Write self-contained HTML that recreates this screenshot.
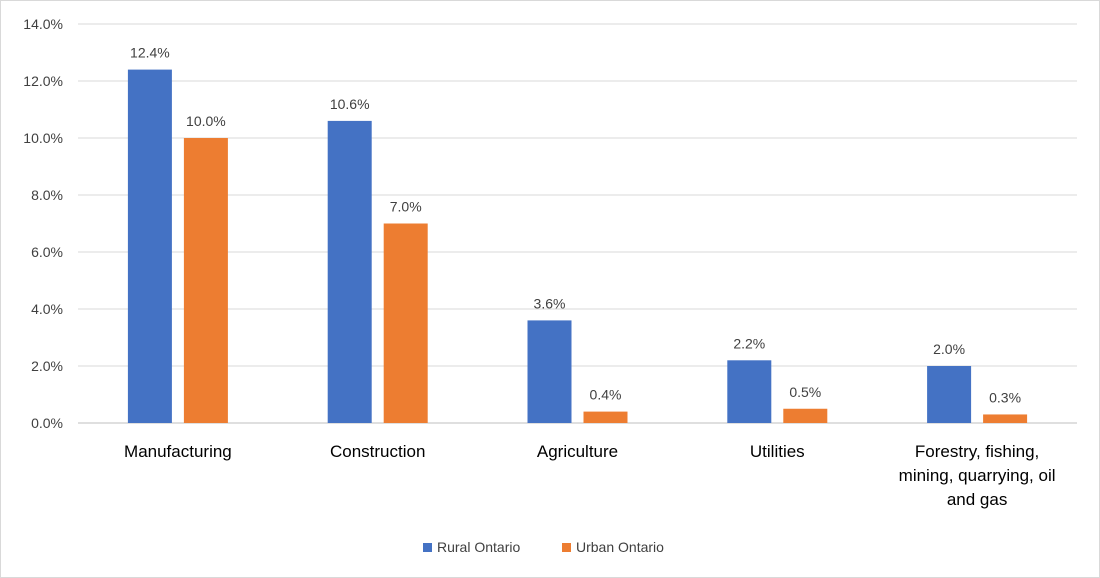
<!DOCTYPE html>
<html><head><meta charset="utf-8"><style>
html,body{margin:0;padding:0;background:#fff}
svg{display:block;font-family:"Liberation Sans",Calibri,sans-serif}
</style></head><body>
<svg id="chart" width="1100" height="578">
<rect x="0.5" y="0.5" width="1099" height="577" fill="#fff" stroke="#d9d9d9"/>
<g id="grid"></g><g id="bars"></g><g id="labels"></g>
<g>
<rect x="423" y="543" width="9" height="9" fill="#4472c4"/>
<text x="437" y="552" font-size="14" fill="#404040">Rural Ontario</text>
<rect x="562" y="543" width="9" height="9" fill="#ed7d31"/>
<text x="576" y="552" font-size="14" fill="#404040">Urban Ontario</text>
</g>
</svg>
<script>
const categories=[["Manufacturing"],["Construction"],["Agriculture"],["Utilities"],["Forestry, fishing,","mining, quarrying, oil","and gas"]];
const rural=[12.4,10.6,3.6,2.2,2.0];
const urban=[10.0,7.0,0.4,0.5,0.3];
const ticks=[0,2,4,6,8,10,12,14];
const ns="http://www.w3.org/2000/svg";
const L=78,R=1077,T=24,B=423,maxV=14;
const y=v=>B-(v/maxV)*(B-T);
const bw=(R-L)/categories.length;
const cx=i=>L+bw*(i+0.5);
function mk(tag,attrs,parent,txt){const e=document.createElementNS(ns,tag);for(const k in attrs)e.setAttribute(k,attrs[k]);if(txt!==undefined)e.textContent=txt;document.getElementById(parent).appendChild(e);return e;}
ticks.forEach(t=>{
 const l=mk('line',{x1:L,x2:R,y1:y(t),y2:y(t),stroke:t===0?'#bfbfbf':'#d9d9d9','stroke-width':1},'grid');
 
 
 const tx=mk('text',{x:63,y:y(t)+5,'text-anchor':'end','font-size':14,fill:'#404040'},'labels',t.toFixed(1)+'%');
 
 
});
categories.forEach((c,i)=>{
 [[rural,'#4472c4',-50,'rural'],[urban,'#ed7d31',6,'urban']].forEach(([arr,col,off,nm])=>{
  const v=arr[i];
  const r=mk('rect',{x:cx(i)+off,y:y(v),width:44,height:B-y(v),fill:col},'bars');
  
  
  const t=mk('text',{x:cx(i)+off+22,y:y(v)-12,'text-anchor':'middle','font-size':14,fill:'#404040'},'labels',v.toFixed(1)+'%');
  
  
 });
 c.forEach((line,j)=>{
  const t=mk('text',{x:cx(i),y:457+j*24,'text-anchor':'middle','font-size':17,fill:'#000'},'labels',line);
  
  
 });
});
</script>
</body></html>
